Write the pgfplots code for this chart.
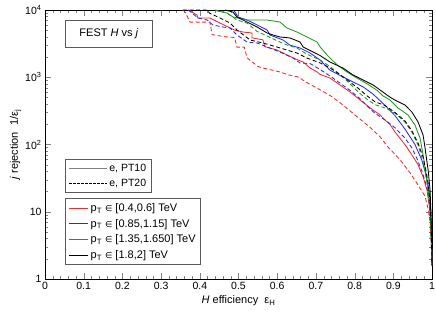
\documentclass[border=0pt]{standalone}
\usepackage{pgfplots}
\pgfplotsset{compat=1.18}
\usepackage{fontspec}
\setmainfont{Liberation Sans}
\newfontfamily\dejavu{DejaVu Sans}
\definecolor{cred}{RGB}{250,40,40}
\definecolor{cblue}{RGB}{40,40,245}
\definecolor{cgreen}{RGB}{30,150,30}
\definecolor{boxgray}{RGB}{90,90,90}
\begin{document}
\begin{tikzpicture}
\begin{axis}[
  width=387pt, height=269pt, scale only axis,
  xmin=0, xmax=1, ymin=1, ymax=10000, ymode=log,
  xtick={0,0.1,0.2,0.3,0.4,0.5,0.6,0.7,0.8,0.9,1},
  xticklabels={0,0.1,0.2,0.3,0.4,0.5,0.6,0.7,0.8,0.9,1},
  minor x tick num=4,
  ytick={1,10,100,1000,10000},
  yticklabels={1,10,10\textsuperscript{2},10\textsuperscript{3},10\textsuperscript{4}},
  tick align=inside,
  major tick length=6pt, minor tick length=3.5pt,
  tick label style={font=\fontsize{10.5}{12}\selectfont},
  xlabel={\textit{H} efficiency\ \ ε\textsubscript{H}},
  ylabel={\textit{j} rejection\ \ 1/ε\textsubscript{j}},
  label style={font=\fontsize{11}{13}\selectfont},
  xlabel style={yshift=1pt},
  ylabel style={yshift=-3pt},
  every axis plot/.append style={line width=0.85pt},
  legend style={at={(0.052,0.052)}, anchor=south west, draw=boxgray, line width=0.6pt,
    font=\fontsize{11}{12}\selectfont, row sep=2.6pt, inner sep=3pt,
    nodes={inner sep=1.8pt}},
  legend cell align=left,
  legend image post style={line width=0.8pt, xscale=1.15},
]
% ---- PT10 (solid) ----
\addplot[cred] coordinates {
(0.375,10000)(0.380,9300)(0.393,8400)(0.395,7600)(0.426,7600)(0.452,6400)(0.491,5000)
(0.512,4700)(0.535,4550)(0.535,3850)(0.563,3600)(0.568,2850)(0.599,2550)(0.625,2150)
(0.654,1800)(0.667,1690)(0.685,1370)(0.703,1200)(0.711,1100)(0.736,975)(0.762,770)
(0.788,605)(0.814,460)(0.840,350)(0.866,275)(0.879,230)(0.891,200)(0.904,155)(0.930,100)
(0.948,70)(0.964,50)(0.977,33)(0.987,21)(0.992,13.5)(0.997,8)(1.0,1.6)};
\addlegendentry{p\textsubscript{T} {\dejavu\fontsize{8.5}{9}\selectfont ∈} [0.4,0.6] TeV}
\addplot[cblue] coordinates {
(0.486,10000)(0.491,9300)(0.499,7870)(0.522,7100)(0.548,6000)(0.574,5040)(0.581,4250)
(0.615,3580)(0.633,3000)(0.659,2720)(0.685,2290)(0.711,1800)(0.736,1280)(0.770,1010)
(0.796,850)(0.822,720)(0.848,560)(0.879,380)(0.904,270)(0.930,170)(0.956,100)
(0.974,58)(0.982,40)(0.990,25)(0.995,15)(0.997,10)(1.0,1.6)};
\addlegendentry{p\textsubscript{T} {\dejavu\fontsize{8.5}{9}\selectfont ∈} [0.85,1.15] TeV}
\addplot[cgreen] coordinates {
(0.440,10000)(0.444,9700)(0.470,9030)(0.486,7870)(0.522,7100)(0.574,7100)(0.607,6630)
(0.625,5400)(0.651,4710)(0.677,3970)(0.703,3340)(0.711,2820)(0.729,2140)(0.755,1520)
(0.780,1200)(0.806,975)(0.832,800)(0.858,640)(0.873,530)(0.891,460)(0.912,349)
(0.938,275)(0.956,195)(0.969,125)(0.977,70)(0.982,45)(0.987,30)(0.992,17)(0.996,8)(1.0,1.6)};
\addlegendentry{p\textsubscript{T} {\dejavu\fontsize{8.5}{9}\selectfont ∈} [1.35,1.650] TeV}
\addplot[black] coordinates {
(0.465,10000)(0.486,9300)(0.496,7870)(0.522,6630)(0.548,5590)(0.574,4550)(0.589,4250)
(0.607,3970)(0.633,3840)(0.659,3340)(0.667,2820)(0.693,2370)(0.711,2100)(0.736,1690)
(0.770,1370)(0.796,1080)(0.822,910)(0.848,767)(0.873,604)(0.891,508)(0.904,459)
(0.930,387)(0.948,304)(0.964,216)(0.977,138)(0.982,89)(0.987,55)(0.990,42)(0.995,21)
(0.997,10.6)(1.0,1.6)};
\addlegendentry{p\textsubscript{T} {\dejavu\fontsize{8.5}{9}\selectfont ∈} [1.8,2] TeV}
% ---- PT20 (dashed) ----
\addplot[cred, dash pattern=on 4pt off 2.5pt, forget plot] coordinates {
(0.357,10000)(0.362,9300)(0.375,6600)(0.426,6600)(0.432,4300)(0.465,4000)(0.490,3900)
(0.496,2800)(0.515,2800)(0.522,1950)(0.550,1450)(0.561,1380)(0.607,1200)(0.630,1080)
(0.654,1010)(0.677,830)(0.711,650)(0.740,520)(0.762,420)(0.790,310)(0.806,260)
(0.840,180)(0.866,130)(0.884,95)(0.904,72)(0.922,55)(0.943,38)(0.964,25)(0.982,17)
(0.990,11)(0.995,7)(0.998,4)(1.0,1.6)};
\addplot[cblue, dash pattern=on 4pt off 2.5pt, forget plot] coordinates {
(0.370,10000)(0.380,9030)(0.395,7610)(0.419,7100)(0.434,5980)(0.460,5590)(0.478,5400)
(0.496,4250)(0.522,3340)(0.548,3230)(0.581,2720)(0.607,2370)(0.641,1930)(0.659,1630)
(0.685,1600)(0.711,1300)(0.736,1050)(0.762,820)(0.788,640)(0.814,480)(0.840,340)
(0.853,290)(0.879,231)(0.904,178)(0.930,125)(0.948,89)(0.961,62)(0.974,40)(0.987,23)
(0.992,15)(0.996,8)(0.998,4.5)(1.0,1.6)};
\addplot[cgreen, dash pattern=on 4pt off 2.5pt, forget plot] coordinates {
(0.440,10000)(0.470,9000)(0.496,7100)(0.522,6400)(0.548,4800)(0.574,4100)(0.599,3500)
(0.625,3020)(0.651,2720)(0.677,2200)(0.711,1800)(0.736,1450)(0.762,1100)(0.788,800)
(0.810,600)(0.832,470)(0.853,390)(0.879,349)(0.904,294)(0.930,216)(0.948,153)
(0.964,98)(0.974,63)(0.982,40)(0.988,25)(0.993,14)(0.997,6)(1.0,1.6)};
\addplot[black, dash pattern=on 4pt off 2.5pt, forget plot] coordinates {
(0.357,10000)(0.419,10000)(0.425,9000)(0.452,7610)(0.478,6410)(0.496,5040)(0.530,3580)
(0.563,3230)(0.599,2820)(0.625,2540)(0.651,2290)(0.677,1930)(0.711,1630)(0.736,1380)
(0.762,1100)(0.788,850)(0.810,680)(0.832,530)(0.853,430)(0.879,380)(0.904,300)
(0.930,225)(0.948,160)(0.964,105)(0.977,65)(0.984,42)(0.990,27)(0.995,14)(0.998,6)(1.0,1.6)};
\node[draw=boxgray, line width=0.6pt, anchor=north west, minimum width=87pt, minimum height=27pt,
  font=\fontsize{11}{13}\selectfont] at (rel axis cs:0.052,0.963) {FEST \textit{H} vs \textit{j}};
\end{axis}
\begin{axis}[
  width=387pt, height=269pt, scale only axis, hide axis,
  xmin=0, xmax=1, ymin=0, ymax=1,
  legend style={at={(0.052,0.320)}, anchor=south west, draw=boxgray, line width=0.6pt,
    font=\fontsize{10.5}{12}\selectfont, row sep=2pt, inner sep=3pt,
    nodes={inner sep=2pt}},
  legend cell align=left,
  legend image post style={xscale=2.2},
]
\addlegendimage{gray, line width=1.4pt}
\addlegendentry{e, PT10}
\addlegendimage{black, line width=0.6pt, dash pattern=on 2.5pt off 1.5pt}
\addlegendentry{e, PT20}
\end{axis}
\pgfresetboundingbox
\path[use as bounding box] ([shift={(-45pt,-35pt)}]current axis.south west) rectangle ([shift={(4pt,10pt)}]current axis.north east);
\end{tikzpicture}
\end{document}
